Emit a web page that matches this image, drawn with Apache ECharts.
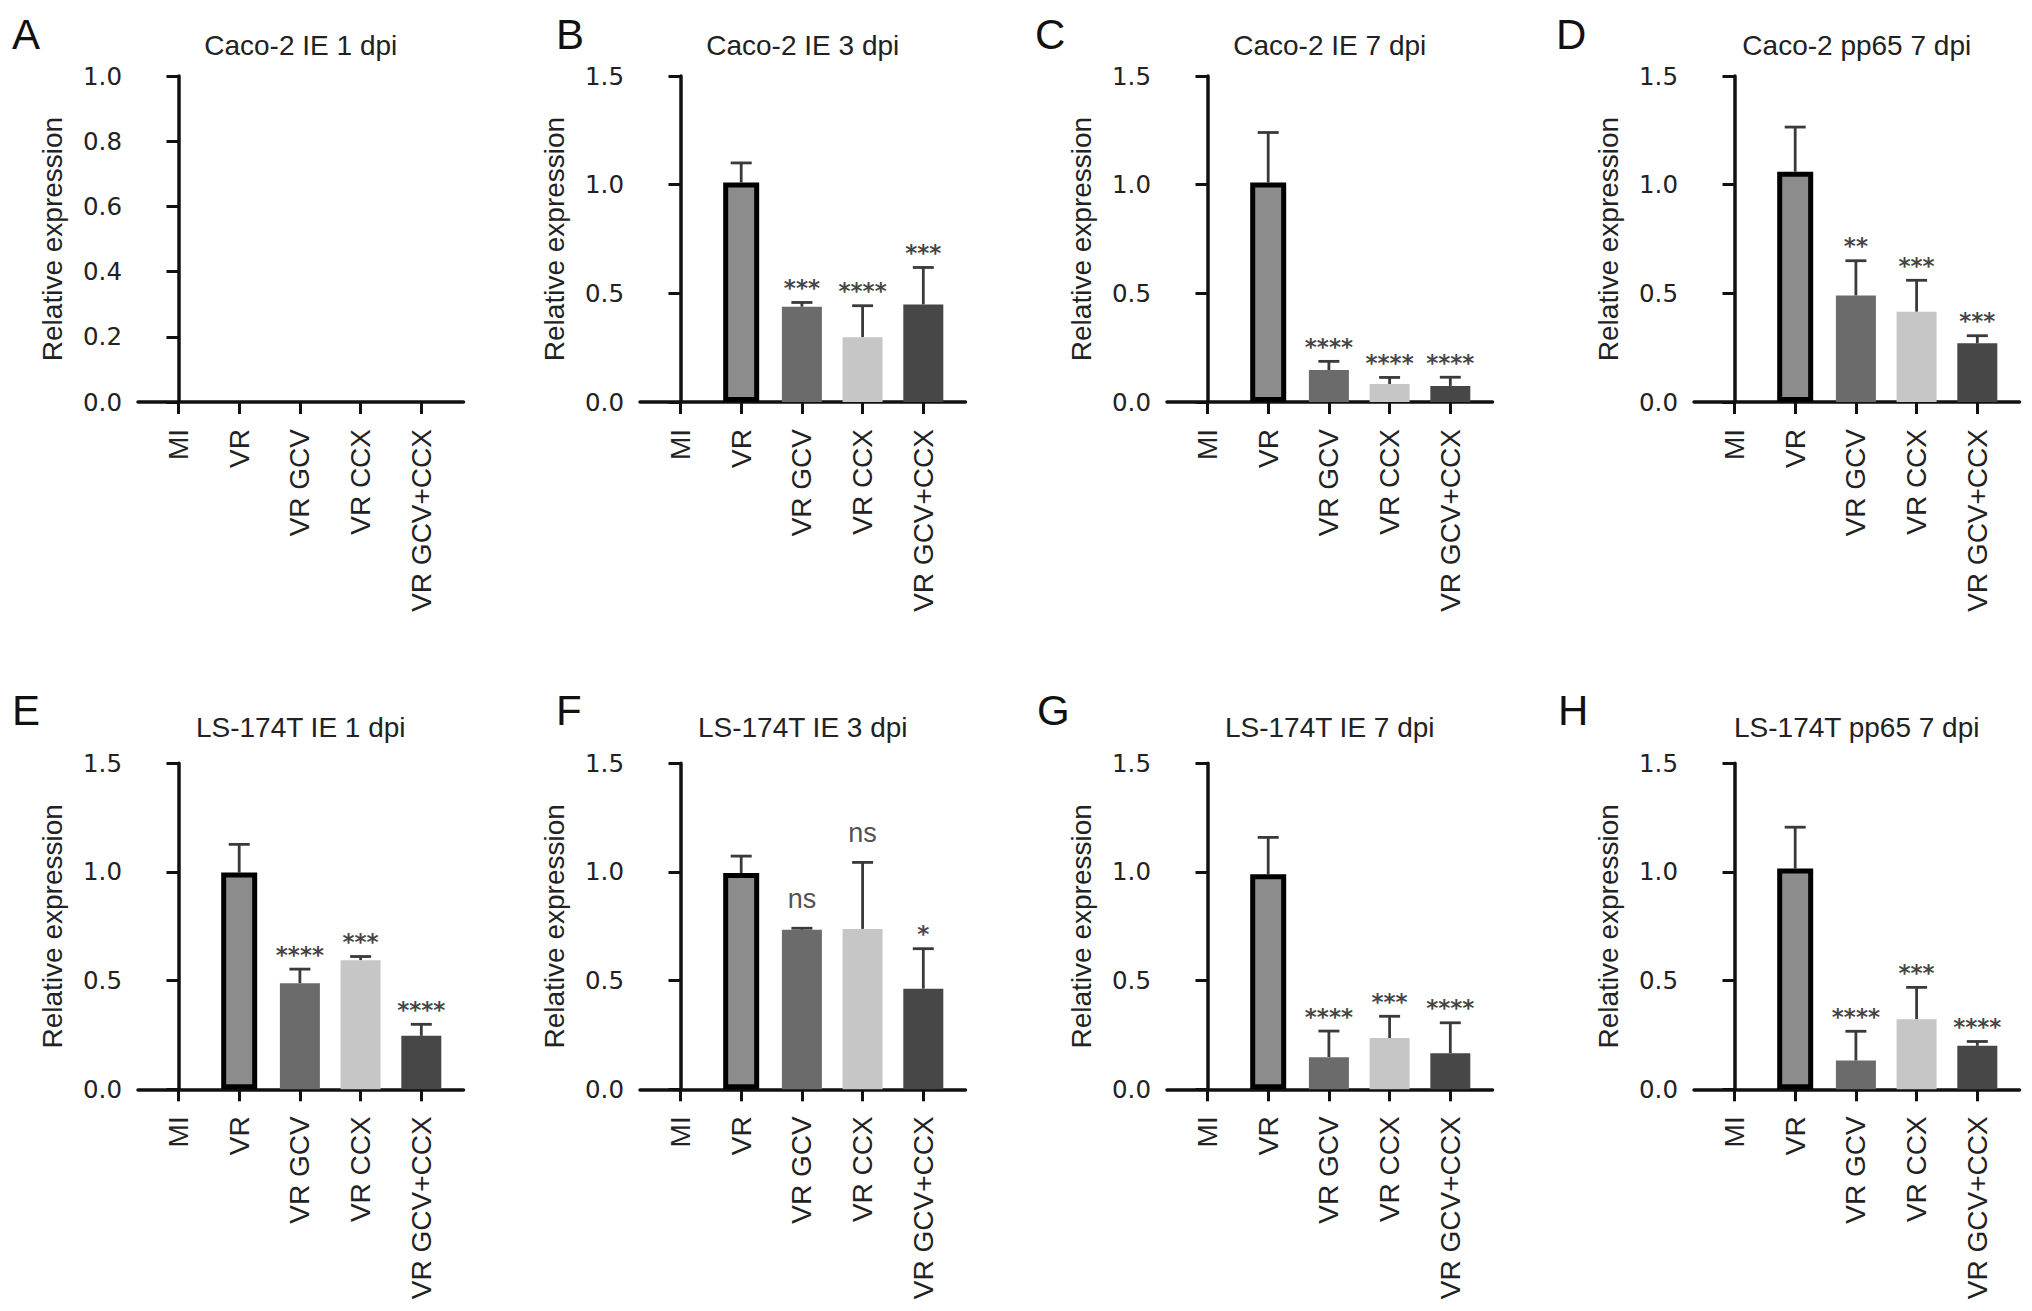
<!DOCTYPE html>
<html>
<head>
<meta charset="utf-8">
<script src="https://cdn.jsdelivr.net/npm/echarts@6/dist/echarts.min.js"></script>
<style>
  html, body { margin: 0; padding: 0; background: #fff; overflow: hidden; }
  #chart { width: 2032px; height: 1311px; }
</style>
</head>
<body>
<div id="chart"></div>
<script>
// ---------------- data ----------------
const categories = ['MI', 'VR', 'VR GCV', 'VR CCX', 'VR GCV+CCX'];
const panelLetters = ['A', 'B', 'C', 'D', 'E', 'F', 'G', 'H'];
const panelTitles = ['Caco-2 IE 1 dpi', 'Caco-2 IE 3 dpi', 'Caco-2 IE 7 dpi', 'Caco-2 pp65 7 dpi',
                     'LS-174T IE 1 dpi', 'LS-174T IE 3 dpi', 'LS-174T IE 7 dpi', 'LS-174T pp65 7 dpi'];
const yMaxes = [1.0, 1.5, 1.5, 1.5, 1.5, 1.5, 1.5, 1.5];
const yIntervals = [0.2, 0.5, 0.5, 0.5, 0.5, 0.5, 0.5, 0.5];
const yAxisName = 'Relative expression';

const meanA = [0, 0, 0, 0, 0];
const sdA   = [0, 0, 0, 0, 0];
const sigA  = ['', '', '', '', ''];

const meanB = [0, 1.01, 0.438, 0.298, 0.449];
const sdB   = [0, 0.09, 0.02, 0.145, 0.17];
const sigB  = ['', '', '***', '****', '***'];

const meanC = [0, 1.01, 0.147, 0.083, 0.074];
const sdC   = [0, 0.23, 0.04, 0.03, 0.04];
const sigC  = ['', '', '****', '****', '****'];

const meanD = [0, 1.06, 0.49, 0.415, 0.27];
const sdD   = [0, 0.205, 0.16, 0.145, 0.035];
const sigD  = ['', '', '**', '***', '***'];

const meanE = [0, 0.997, 0.488, 0.594, 0.246];
const sdE   = [0, 0.13, 0.065, 0.017, 0.053];
const sigE  = ['', '', '****', '***', '****'];

const meanF = [0, 0.995, 0.734, 0.738, 0.463];
const sdF   = [0, 0.078, 0.007, 0.306, 0.184];
const sigF  = ['', '', 'ns', 'ns', '*'];

const meanG = [0, 0.989, 0.148, 0.236, 0.166];
const sdG   = [0, 0.17, 0.12, 0.10, 0.14];
const sigG  = ['', '', '****', '***', '****'];

const meanH = [0, 1.016, 0.132, 0.322, 0.200];
const sdH   = [0, 0.19, 0.135, 0.147, 0.02];
const sigH  = ['', '', '****', '***', '****'];

const means = [meanA, meanB, meanC, meanD, meanE, meanF, meanG, meanH];
const sds   = [sdA, sdB, sdC, sdD, sdE, sdF, sdG, sdH];
const sigs  = [sigA, sigB, sigC, sigD, sigE, sigF, sigG, sigH];

// ---------------- style / layout ----------------
const FONT = "'Liberation Sans', Arial, Helvetica, sans-serif";
const WIDE_FONT = "'DejaVu Sans', 'Liberation Sans', sans-serif";
const barColors = ['#8c8c8c', '#8c8c8c', '#6b6b6b', '#c6c6c6', '#474747'];
const gridLefts = [138, 640, 1167, 1694];
const gridTops = [76, 763.3];
const gridW = 325.5, gridH = 326;
const letterLefts = [12, 556, 1035, 1556, 12, 556, 1037, 1558];
const letterTops = [13, 689];
const titleTops = [31, 713.5];

const chart = echarts.init(document.getElementById('chart'), null, { renderer: 'svg' });

const grids = [], xAxes = [], yAxes = [], series = [], titles = [];

for (let p = 0; p < 8; p++) {
  const col = p % 4, row = Math.floor(p / 4);
  const left = gridLefts[col], top = gridTops[row];
  grids.push({ left: left, top: top, width: gridW, height: gridH, containLabel: false });

  const mainX = xAxes.length;
  xAxes.push({
    type: 'value', gridIndex: p, min: -0.667, max: 4.695,
    splitLine: { show: false },
    axisLine: { show: true, onZero: false, lineStyle: { color: '#111', width: 3.5 } },
    axisTick: { show: true, customValues: [0, 1, 2, 3, 4], length: 12, lineStyle: { color: '#111', width: 3 } },
    axisLabel: {
      show: true, customValues: [0, 1, 2, 3, 4], rotate: 90, margin: 27,
      fontSize: 28, fontFamily: FONT, color: '#222',
      formatter: function (v) { return categories[Math.round(v)]; }
    }
  });
  const hiddenX = xAxes.length;
  xAxes.push({ type: 'value', gridIndex: p, min: -0.667, max: 4.695, show: false });

  const yIdx = yAxes.length;
  yAxes.push({
    type: 'value', gridIndex: p, min: 0, max: yMaxes[p], interval: yIntervals[p],
    splitLine: { show: false },
    axisLine: { show: true, lineStyle: { color: '#111', width: 3.5 } },
    axisTick: { show: true, length: 12, lineStyle: { color: '#111', width: 3 } },
    axisLabel: { fontSize: 24.5, fontFamily: WIDE_FONT, color: '#222', margin: 16,
      formatter: function (v) { return v.toFixed(1); } },
    name: yAxisName, nameLocation: 'middle', nameGap: 72, nameRotate: 90,
    nameTextStyle: { fontSize: 28, fontFamily: FONT, color: '#222' }
  });

  const m = means[p], s = sds[p], sg = sigs[p];

  // treatment bars (no border)
  const plainBars = [];
  for (let i = 2; i < categories.length; i++) {
    if (m[i] > 0) plainBars.push({ value: [i, m[i]], itemStyle: { color: barColors[i] } });
  }
  series.push({ type: 'bar', xAxisIndex: mainX, yAxisIndex: yIdx, barWidth: 40,
    data: plainBars, z: 2 });

  // VR bar (black outline)
  const vrBars = [];
  if (m[1] > 0) vrBars.push({ value: [1, m[1]] });
  series.push({ type: 'bar', xAxisIndex: hiddenX, yAxisIndex: yIdx, barWidth: 36,
    itemStyle: { color: barColors[1], borderColor: '#000', borderWidth: 5 },
    data: vrBars, z: 2 });

  // error bars (upper only)
  const errData = [];
  for (let i = 0; i < categories.length; i++) {
    if (m[i] > 0 && s[i] > 0) errData.push([i, m[i], m[i] + s[i]]);
  }
  series.push({
    type: 'custom', xAxisIndex: mainX, yAxisIndex: yIdx, z: 1,
    data: errData,
    renderItem: function (params, api) {
      const base = api.coord([api.value(0), api.value(1)]);
      const tip = api.coord([api.value(0), api.value(2)]);
      const st = { stroke: '#3a3a3a', lineWidth: 2.8 };
      return { type: 'group', children: [
        { type: 'line', shape: { x1: base[0], y1: base[1], x2: tip[0], y2: tip[1] }, style: st },
        { type: 'line', shape: { x1: tip[0] - 10.5, y1: tip[1], x2: tip[0] + 10.5, y2: tip[1] }, style: st }
      ] };
    }
  });

  // significance labels
  const sigData = [];
  for (let i = 0; i < categories.length; i++) {
    if (sg[i]) {
      const isNs = sg[i] === 'ns';
      sigData.push({
        value: [i, m[i] + s[i]],
        label: isNs
          ? { show: true, position: 'top', formatter: sg[i], distance: 15.5,
              fontSize: 27, fontFamily: FONT, color: '#222' }
          : { show: true, position: 'top', formatter: sg[i], distance: 3,
              fontSize: 23, fontWeight: 'bold', fontFamily: WIDE_FONT, color: '#111' }
      });
    }
  }
  series.push({ type: 'scatter', xAxisIndex: mainX, yAxisIndex: yIdx, symbolSize: 0,
    data: sigData, silent: true, z: 3 });

  titles.push({
    text: panelTitles[p], left: left + gridW / 2, top: titleTops[row],
    textAlign: 'center', padding: 0,
    textStyle: { fontSize: 28, fontWeight: 'normal', fontFamily: FONT, color: '#222' }
  });
  titles.push({
    text: panelLetters[p], left: letterLefts[p], top: letterTops[row], padding: 0,
    textStyle: { fontSize: 42, fontWeight: 'normal', fontFamily: FONT, color: '#111' }
  });
}

chart.setOption({
  backgroundColor: '#ffffff',
  animation: false,
  title: titles,
  grid: grids,
  xAxis: xAxes,
  yAxis: yAxes,
  series: series
});
</script>
</body>
</html>
